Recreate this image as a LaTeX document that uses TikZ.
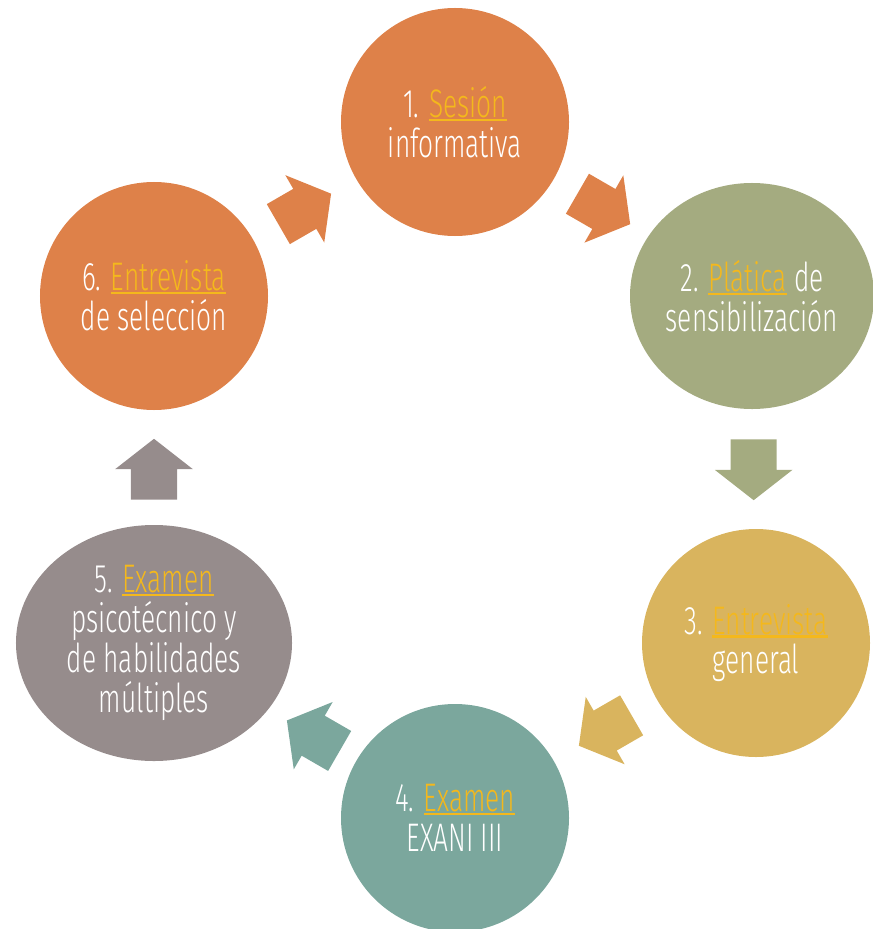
\documentclass[tikz,border=0pt]{standalone}
\usepackage{fontspec}
\setmainfont{Fira Sans}[UprightFont=* Light, FakeStretch=0.66]
\usetikzlibrary{shapes.geometric,shapes.arrows,calc}
\definecolor{naranja}{HTML}{DE8149}
\definecolor{olivo}{HTML}{A4AB80}
\definecolor{mostaza}{HTML}{D9B45E}
\definecolor{verdeazul}{HTML}{7BA79D}
\definecolor{gris}{HTML}{968C8C}
\definecolor{dorado}{HTML}{F4B81C}
\newcommand{\clave}[1]{{\color{dorado}\setbox0\hbox{#1}\rlap{\rule[-3pt]{\wd0}{1.8pt}}\box0}}

\begin{document}
\begin{tikzpicture}[x=0.03cm,y=-0.03cm]
                        \tikzstyle{paso}=[ellipse, inner sep=0pt, text=white, align=center,
                            minimum width=6.84cm, minimum height=6.84cm,
                            font=\fontsize{34}{34}\selectfont]
                        \tikzstyle{flecha}=[single arrow, anchor=tail, inner xsep=0pt, inner ysep=19.5pt,
                            minimum height=52pt, minimum width=66pt, single arrow head extend=13.5pt,
                            single arrow tip angle=104]
                        \useasboundingbox (0,0) rectangle (873,929);
                        \node[paso, fill=naranja] (s1) at (455,122) {1. \clave{Sesión}\\informativa};
                        \node[paso, fill=olivo, minimum width=7.32cm, minimum height=6.78cm] (s2) at (752,296)
                            {2. \clave{Plática} de\\sensibilización};
                        \node[paso, fill=mostaza] (s3) at (756,643) {3. \clave{Entrevista}\\general};
                        \node[paso, fill=verdeazul] (s4) at (455,818) {4. \clave{Examen}\\EXANI III};
                        \node[paso, fill=gris, minimum width=8.28cm, minimum height=7.08cm] (s5) at (154,643)
                            {5. \clave{Examen}\\psicotécnico y\\de habilidades\\múltiples};
                        \node[paso, fill=naranja] (s6) at (154,296) {6. \clave{Entrevista}\\de selección};
                        \coordinate (m12) at ($(s1)!0.5!(s2)$);
                        \coordinate (m23) at ($(s2)!0.5!(s3)$);
                        \coordinate (m34) at ($(s3)!0.5!(s4)$);
                        \coordinate (m45) at ($(s4)!0.47!(s5)$);
                        \coordinate (m56) at ($(s5)!0.5!(s6)$);
                        \coordinate (m61) at ($(s6)!0.5!(s1)$);
                        \node[flecha, fill=naranja, rotate=-30] (f12) at ($(m12)!26pt!(s1)$) {};
                        \node[flecha, fill=olivo, rotate=-90] (f23) at ($(m23)!26pt!(s2)$) {};
                        \node[flecha, fill=mostaza, rotate=210] (f34) at ($(m34)!26pt!(s3)$) {};
                        \node[flecha, fill=verdeazul, rotate=150] (f45) at ($(m45)!26pt!(s4)$) {};
                        \node[flecha, fill=gris, rotate=90] (f56) at ($(m56)!26pt!(s5)$) {};
                        \node[flecha, fill=naranja, rotate=30] (f61) at ($(m61)!26pt!(s6)$) {};
\end{tikzpicture}
\end{document}
